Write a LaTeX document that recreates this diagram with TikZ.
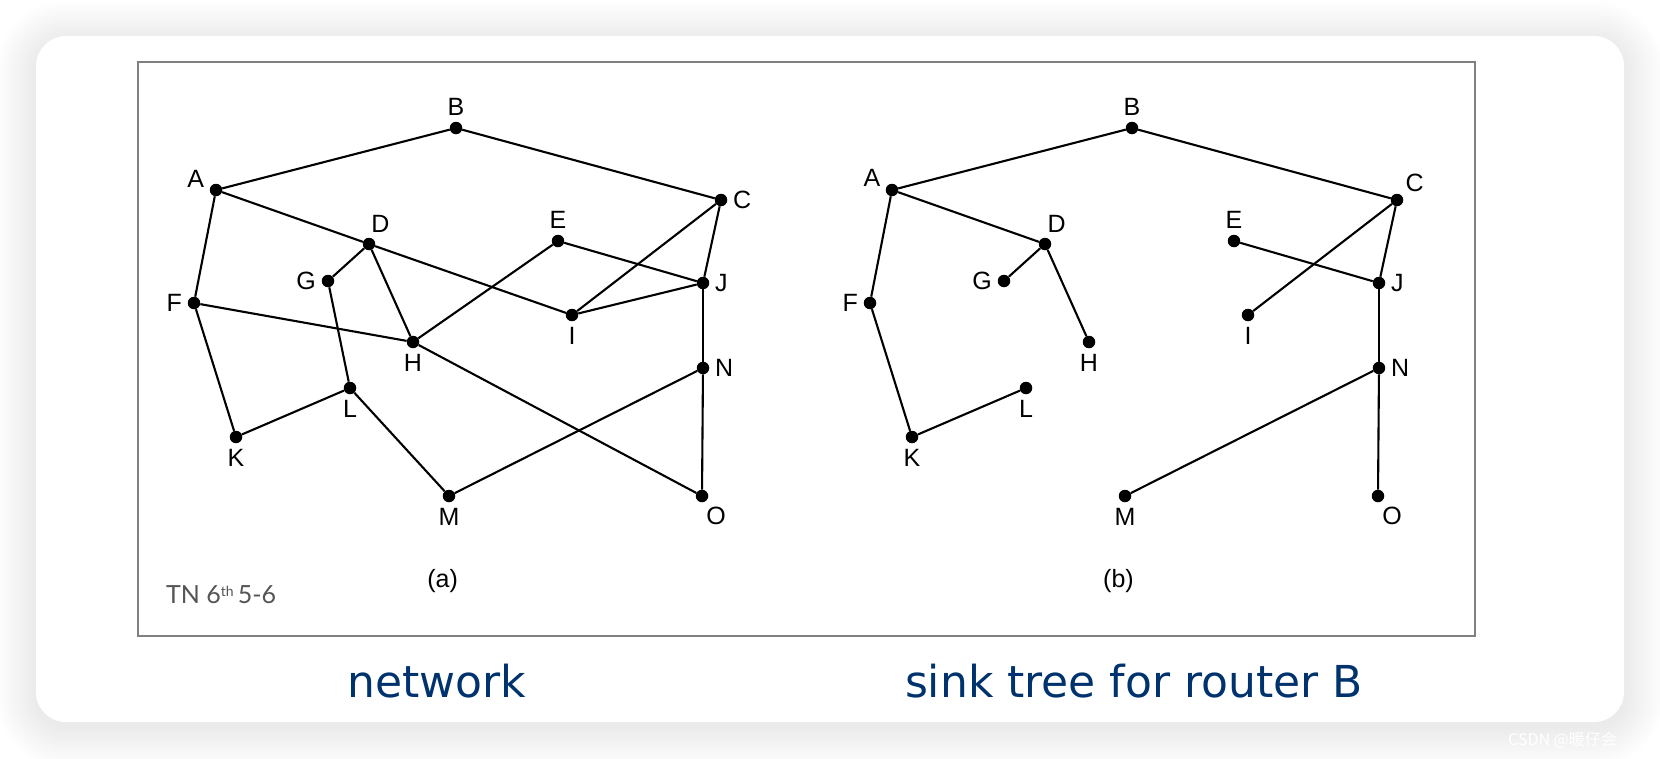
\documentclass[tikz,border=0pt]{standalone}
\usepackage{fontspec}
\setmainfont{Liberation Sans}
\newfontfamily\capfont{DejaVu Sans}
\newfontfamily\tnfont{Lato}
\newfontfamily\cjkfont{Noto Sans CJK SC}
\usepackage{tikz}
\usetikzlibrary{positioning}
\definecolor{capblue}{RGB}{0,51,110}
\definecolor{tngray}{RGB}{85,85,85}
\definecolor{framegray}{RGB}{128,128,128}
\tikzstyle{router}=[%
      circle, fill=black, inner sep=0pt, minimum size=12.5pt
]
\tikzstyle{lbl}=[%
      font=\fontsize{25}{29}\selectfont, inner sep=0pt
]
\tikzstyle{link}=[%
      line width=2.1pt
]
\tikzstyle{figframe}=[%
      draw=framegray, line width=2pt
]
\tikzstyle{captext}=[%
      font=\capfont\fontsize{44}{52}\selectfont, text=capblue, inner sep=0pt, anchor=base
]
% name / x / y / label angle in (a) / label angle in (b)
\def\routers{B/456/128/90/90, A/216/190/170/165, C/721/200/0/45, D/369/244/80/78,
  E/558/241/90/90, G/328/281/180/180, J/703/283/0/0, F/194/303/180/180,
  I/572/315/270/270, H/413/342/270/270, N/703/368/0/0, L/350/388/270/270,
  K/236/437/270/270, M/449/496/270/270, O/702/496/-70/-70}

\begin{document}
\begin{tikzpicture}[x=1pt, y=-1pt, label distance=5.5pt]
    \useasboundingbox (0,0) rectangle (1660,758);
    \fill[white] (0,0) rectangle (1660,758);
    % soft shadow and card
    \foreach \k in {2,4,...,40} {
      \pgfmathsetmacro\rr{30+\k}
      \fill[black, opacity=0.0045, rounded corners=\rr pt] (36-\k,41-\k) rectangle (1624+\k,727+\k);
    }
    \fill[white, rounded corners=30pt] (36,36) rectangle (1624,722);
    \draw[figframe] (137.6,61.7) rectangle (1474.8,635.7);

    % (a) network
    \begin{scope}[name prefix=a-]
      \foreach \n/\x/\y/\pa/\pb in \routers
        \node[router, label={[lbl]\pa:\n}] (\n) at (\x,\y) {};
      \foreach \u/\v in {A/B, B/C, A/F, A/D, D/I, D/G, D/H, C/J, C/I, E/J, E/H,
                         I/J, F/H, F/K, G/L, K/L, L/M, H/O, J/N, N/O, N/M}
        \draw[link] (\u) -- (\v);
    \end{scope}

    % (b) sink tree
    \begin{scope}[xshift=676pt, name prefix=b-]
      \foreach \n/\x/\y/\pa/\pb in \routers
        \node[router, label={[lbl]\pb:\n}] (\n) at (\x,\y) {};
      \foreach \u/\v in {A/B, B/C, A/F, A/D, D/G, D/H, C/J, C/I, E/J,
                         J/N, N/O, N/M, F/K, K/L}
        \draw[link] (\u) -- (\v);
    \end{scope}

    \node[lbl] (sub-a) at (442.6,581) {(a)};
    \node[lbl] (sub-b) at (1118.5,581) {(b)};
    \node[anchor=west, inner sep=0pt, text=tngray, font=\tnfont\fontsize{25}{30}\selectfont]
      (tn) at (166,595) {TN 6\raisebox{0.55ex}{\fontsize{14}{16}\selectfont th}\,5-6};

    \node[captext] (cap-a) at (437,697) {network};
    \node[captext] (cap-b) at (1134,697) {sink tree for router B};

    \node[anchor=base west, inner sep=0pt, text=white, font=\cjkfont\fontsize{16}{18}\selectfont]
      (mark) at (1508,745) {CSDN @暖仔会};
\end{tikzpicture}
\end{document}
